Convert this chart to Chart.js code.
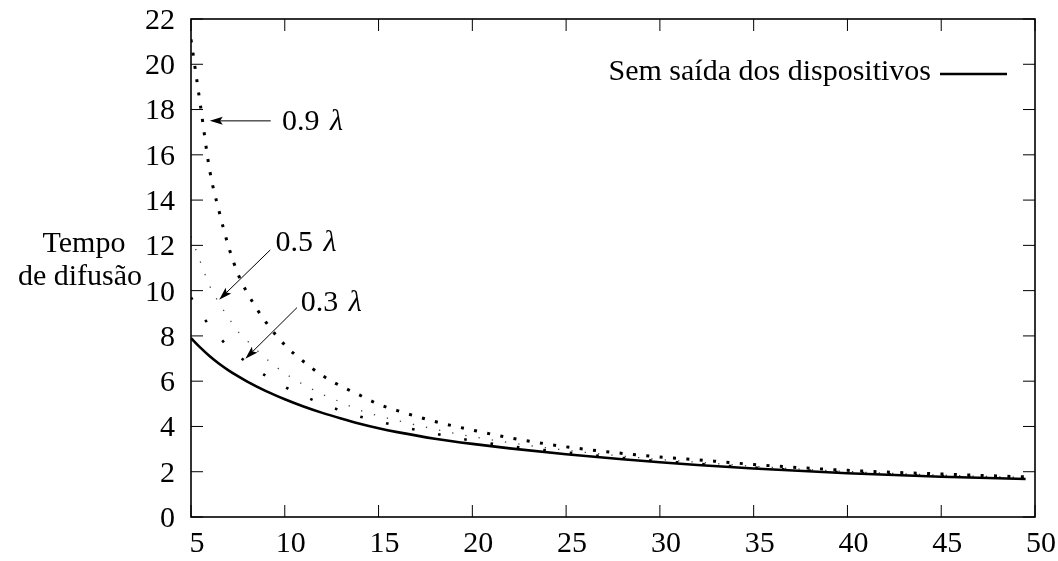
<!DOCTYPE html>
<html>
<head>
<meta charset="utf-8">
<script src="https://cdn.jsdelivr.net/npm/chart.js@4.4.1/dist/chart.umd.min.js"></script>
<style>
  html, body { margin: 0; padding: 0; background: #fff; }
  #wrap { width: 1058px; height: 561px; }
</style>
</head>
<body>
<div id="wrap"><canvas id="chart" width="1058" height="561"></canvas></div>
<script>
// dados
const xValues = [5, 5.5, 6, 6.5, 7, 7.5, 8, 9, 10, 11, 12, 13, 14, 15, 16, 18, 20, 22, 25, 28, 30, 32, 35, 40, 45, 49.5];
const semSaida = [7.9, 7.48, 7.1, 6.77, 6.48, 6.22, 5.98, 5.56, 5.2, 4.88, 4.6, 4.35, 4.12, 3.92, 3.75, 3.46, 3.23, 3.03, 2.77, 2.55, 2.42, 2.3, 2.14, 1.93, 1.78, 1.68];
const lambda09 = [21.1, 18.2, 15.3, 13.5, 11.95, 10.75, 9.9, 8.6, 7.6, 6.87, 6.25, 5.78, 5.38, 4.98, 4.7, 4.22, 3.84, 3.5, 3.1, 2.81, 2.65, 2.53, 2.32, 2.06, 1.9, 1.77];
const lambda05 = [12.4, 11.27, 10.2, 9.45, 8.8, 8.2, 7.78, 7.0, 6.35, 5.85, 5.42, 5.07, 4.72, 4.47, 4.26, 3.88, 3.55, 3.28, 2.95, 2.69, 2.54, 2.42, 2.24, 2.01, 1.85, 1.74];
const lambda03 = [9.7, 9.05, 8.42, 7.95, 7.5, 7.13, 6.82, 6.23, 5.75, 5.35, 5.0, 4.7, 4.44, 4.22, 4.03, 3.68, 3.37, 3.13, 2.85, 2.61, 2.47, 2.35, 2.18, 1.97, 1.81, 1.71];
const xTicks = [5, 10, 15, 20, 25, 30, 35, 40, 45, 50];
const yTicks = [0, 2, 4, 6, 8, 10, 12, 14, 16, 18, 20, 22];
const legendLabel = 'Sem saída dos dispositivos';
const yTitle = ['Tempo', 'de difusão'];

const FONT = "'Liberation Serif', 'DejaVu Serif', serif";
const FSIZE = 30;

function toPoints(ys) {
    return xValues.map((x, i) => ({ x: x, y: ys[i] }));
}

// anotações: rótulo, posição do texto e seta (coordenadas de dados)
const notes = [
    { num: '0.9', tx: 9.85, ty: 17.45, from: [9.25, 17.5], to: [6.0, 17.5] },
    { num: '0.5', tx: 9.5, ty: 12.1, from: [9.23, 11.8], to: [6.5, 9.6] },
    { num: '0.3', tx: 10.85, ty: 9.45, from: [10.65, 9.25], to: [7.9, 6.99] }
];

function arrow(ctx, x1, y1, x2, y2) {
    const a = Math.atan2(y2 - y1, x2 - x1);
    const len = 13, w = 4;
    ctx.beginPath();
    ctx.moveTo(x1, y1);
    ctx.lineTo(x2 - Math.cos(a) * len * 0.8, y2 - Math.sin(a) * len * 0.8);
    ctx.stroke();
    ctx.beginPath();
    ctx.moveTo(x2, y2);
    ctx.lineTo(x2 - Math.cos(a) * len - Math.sin(a) * w, y2 - Math.sin(a) * len + Math.cos(a) * w);
    ctx.lineTo(x2 - Math.cos(a) * len * 0.8, y2 - Math.sin(a) * len * 0.8);
    ctx.lineTo(x2 - Math.cos(a) * len + Math.sin(a) * w, y2 - Math.sin(a) * len - Math.cos(a) * w);
    ctx.closePath();
    ctx.fill();
}

const framePlugin = {
    id: 'frame',
    afterDraw(chart) {
        const ctx = chart.ctx;
        const a = chart.chartArea;
        const xs = chart.scales.x, ys = chart.scales.y;
        ctx.save();
        ctx.strokeStyle = '#000';
        ctx.fillStyle = '#000';

        // caixa
        ctx.lineWidth = 1.6;
        ctx.strokeRect(a.left, a.top, a.right - a.left, a.bottom - a.top);

        // marcas para dentro nos quatro lados
        ctx.lineWidth = 1;
        const tl = 12;
        ctx.beginPath();
        yTicks.forEach(v => {
            const py = ys.getPixelForValue(v);
            ctx.moveTo(a.left, py); ctx.lineTo(a.left + tl, py);
            ctx.moveTo(a.right, py); ctx.lineTo(a.right - tl, py);
        });
        xTicks.forEach(v => {
            const px = xs.getPixelForValue(v);
            ctx.moveTo(px, a.bottom); ctx.lineTo(px, a.bottom - tl);
            ctx.moveTo(px, a.top); ctx.lineTo(px, a.top + tl);
        });
        ctx.stroke();

        // título do eixo y
        ctx.font = FSIZE + 'px ' + FONT;
        ctx.textAlign = 'center';
        ctx.textBaseline = 'alphabetic';
        ctx.fillText(yTitle[0], 84, 252);
        ctx.fillText(yTitle[1], 80, 285);

        // setas e rótulos
        ctx.lineWidth = 1;
        notes.forEach(n => {
            arrow(ctx, xs.getPixelForValue(n.from[0]), ys.getPixelForValue(n.from[1]),
                  xs.getPixelForValue(n.to[0]), ys.getPixelForValue(n.to[1]));
            const px = xs.getPixelForValue(n.tx), py = ys.getPixelForValue(n.ty);
            ctx.textAlign = 'left';
            ctx.textBaseline = 'middle';
            ctx.font = FSIZE + 'px ' + FONT;
            const s = n.num + ' ';
            ctx.fillText(s, px, py);
            const w = ctx.measureText(s).width;
            ctx.font = 'italic ' + FSIZE + 'px ' + FONT;
            ctx.fillText('λ', px + w + 3, py);
        });

        // legenda
        const ly = a.top + 55;
        ctx.font = FSIZE + 'px ' + FONT;
        ctx.textAlign = 'right';
        ctx.textBaseline = 'middle';
        ctx.fillText(legendLabel, a.right - 104, ly - 2);
        ctx.lineWidth = 2.5;
        ctx.beginPath();
        ctx.moveTo(a.right - 95, ly);
        ctx.lineTo(a.right - 28, ly);
        ctx.stroke();
        ctx.restore();
    }
};

new Chart(document.getElementById('chart').getContext('2d'), {
    type: 'line',
    data: {
        datasets: [{
            label: legendLabel,
            data: toPoints(semSaida),
            borderColor: '#000',
            borderWidth: 2.6,
            pointRadius: 0,
            cubicInterpolationMode: 'monotone'
        }, {
            label: '0.9 λ',
            data: toPoints(lambda09),
            borderColor: '#000',
            borderWidth: 3,
            borderDash: [3, 10.4],
            borderCapStyle: 'butt',
            pointRadius: 0,
            cubicInterpolationMode: 'monotone'
        }, {
            label: '0.5 λ',
            data: toPoints(lambda05),
            borderColor: '#444',
            borderWidth: 1.3,
            borderDash: [1.3, 12.1],
            borderCapStyle: 'butt',
            pointRadius: 0,
            cubicInterpolationMode: 'monotone'
        }, {
            label: '0.3 λ',
            data: toPoints(lambda03),
            borderColor: '#000',
            borderWidth: 2.6,
            borderDash: [2.6, 24],
            borderCapStyle: 'butt',
            pointRadius: 0,
            cubicInterpolationMode: 'monotone'
        }]
    },
    options: {
        responsive: false,
        animation: false,
        layout: { padding: { top: 19, right: 23, left: 0, bottom: 0 } },
        plugins: { legend: { display: false }, tooltip: { enabled: false } },
        scales: {
            x: {
                type: 'linear',
                min: 5,
                max: 50,
                afterBuildTicks: s => { s.ticks = xTicks.map(v => ({ value: v })); },
                afterFit: s => { s.height = 44; s.paddingLeft = 0; s.paddingRight = 0; },
                grid: { display: false, drawTicks: false },
                border: { display: false },
                ticks: { color: '#000', font: { family: FONT, size: FSIZE }, padding: 9, labelOffset: 6, maxRotation: 0 }
            },
            y: {
                type: 'linear',
                min: 0,
                max: 22,
                afterBuildTicks: s => { s.ticks = yTicks.map(v => ({ value: v })); },
                afterFit: s => { s.width = 191; s.paddingTop = 0; s.paddingBottom = 0; },
                grid: { display: false, drawTicks: false },
                border: { display: false },
                ticks: { color: '#000', font: { family: FONT, size: FSIZE }, padding: 16, labelOffset: 2 }
            }
        }
    },
    plugins: [framePlugin]
});
</script>
</body>
</html>
